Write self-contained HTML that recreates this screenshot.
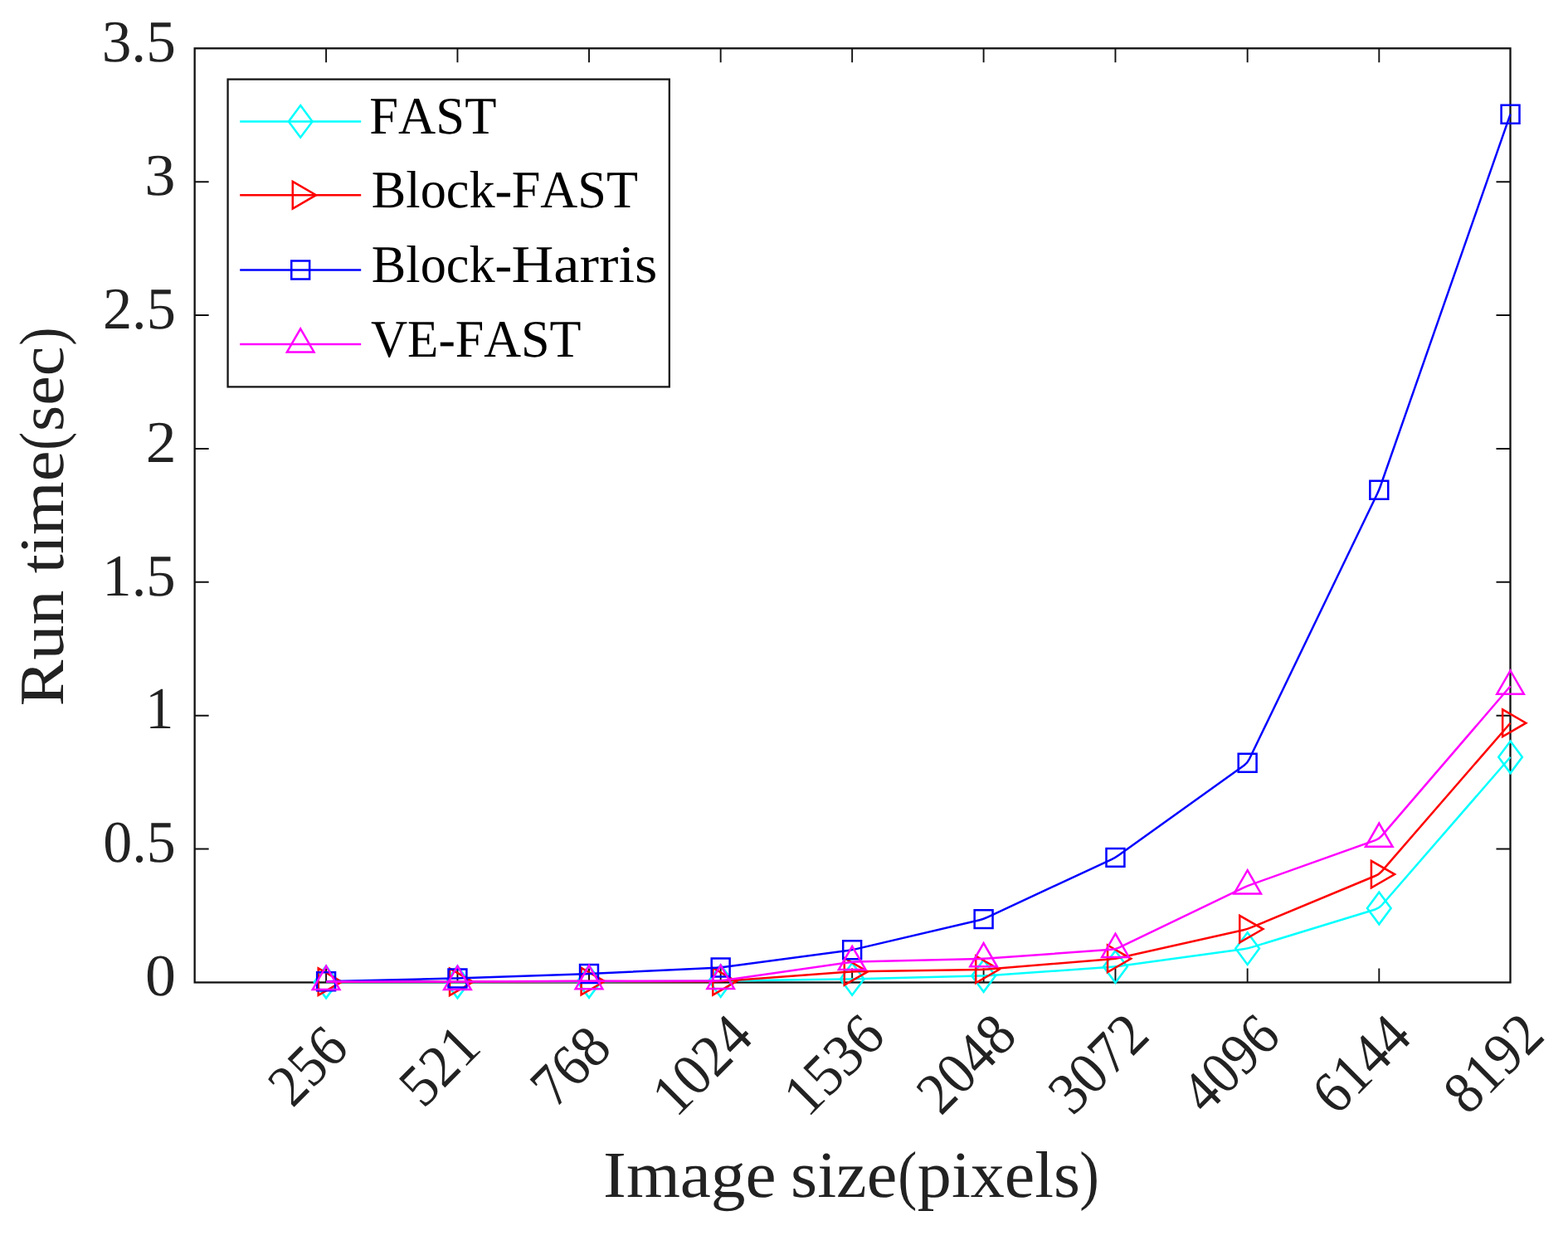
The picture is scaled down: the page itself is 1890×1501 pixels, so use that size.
<!DOCTYPE html>
<html lang="en"><head><meta charset="utf-8"><title>Run time vs image size</title>
<style>html,body{margin:0;padding:0;background:#fff}body{width:1890px;height:1501px;overflow:hidden}svg{display:block}text{font-family:"Liberation Serif",serif;white-space:pre;font-kerning:none;font-variant-ligatures:none;text-rendering:geometricPrecision}</style>
</head><body>
<svg width="1890" height="1501" viewBox="0 0 1890 1501">
<rect width="1890" height="1501" fill="#fff"/>
<g fill="none" stroke="#111111" stroke-width="2.3" stroke-linecap="butt">
<rect x="234.65" y="58.3" width="1585.85" height="1126.15"/>
<path stroke-width="1.9" d="M393.1 1184.45V1167.45M393.1 58.3V75.3M551.45 1184.45V1167.45M551.45 58.3V75.3M710 1184.45V1167.45M710 58.3V75.3M868.65 1184.45V1167.45M868.65 58.3V75.3M1027.15 1184.45V1167.45M1027.15 58.3V75.3M1185.6 1184.45V1167.45M1185.6 58.3V75.3M1344.45 1184.45V1167.45M1344.45 58.3V75.3M1503.65 1184.45V1167.45M1503.65 58.3V75.3M1662.3 1184.45V1167.45M1662.3 58.3V75.3M234.65 219.18H251.65M1820.5 219.18H1803.5M234.65 380.06H251.65M1820.5 380.06H1803.5M234.65 540.94H251.65M1820.5 540.94H1803.5M234.65 701.81H251.65M1820.5 701.81H1803.5M234.65 862.69H251.65M1820.5 862.69H1803.5M234.65 1023.57H251.65M1820.5 1023.57H1803.5"/>
</g>
<g fill="none" stroke="#00ffff" stroke-width="2.5" stroke-linejoin="round" stroke-miterlimit="10">
<path d="M393.1 1184L546.45 1184Q551.45 1184 556.45 1183.98L705 1183.52Q710 1183.5 715 1183.47L863.65 1182.63Q868.65 1182.6 873.65 1182.53L1022.15 1180.47Q1027.15 1180.4 1032.15 1180.28L1180.6 1176.62Q1185.6 1176.5 1190.59 1176.15L1339.46 1165.85Q1344.45 1165.5 1349.4 1164.82L1498.7 1144.28Q1503.65 1143.6 1508.43 1142.14L1657.52 1096.46Q1662.3 1095 1665.58 1091.23L1820.55 912.8"/>
<g stroke-linejoin="miter"><polygon points="393.1,1164.7 407.4,1184 393.1,1203.3 378.8,1184"/><polygon points="551.45,1164.7 565.75,1184 551.45,1203.3 537.15,1184"/><polygon points="710,1164.2 724.3,1183.5 710,1202.8 695.7,1183.5"/><polygon points="868.65,1163.3 882.95,1182.6 868.65,1201.9 854.35,1182.6"/><polygon points="1027.15,1161.1 1041.45,1180.4 1027.15,1199.7 1012.85,1180.4"/><polygon points="1185.6,1157.2 1199.9,1176.5 1185.6,1195.8 1171.3,1176.5"/><polygon points="1344.45,1146.2 1358.75,1165.5 1344.45,1184.8 1330.15,1165.5"/><polygon points="1503.65,1124.3 1517.95,1143.6 1503.65,1162.9 1489.35,1143.6"/><polygon points="1662.3,1075.7 1676.6,1095 1662.3,1114.3 1648,1095"/><polygon points="1820.55,893.5 1834.85,912.8 1820.55,932.1 1806.25,912.8"/></g>
</g>
<g fill="none" stroke="#ff0000" stroke-width="2.5" stroke-linejoin="round" stroke-miterlimit="10">
<path d="M393.1 1183.65L546.45 1183.84Q551.45 1183.85 556.45 1183.83L705 1183.12Q710 1183.1 715 1183.1L863.65 1183.2Q868.65 1183.2 873.64 1182.83L1022.16 1171.77Q1027.15 1171.4 1032.15 1171.32L1180.6 1168.88Q1185.6 1168.8 1190.58 1168.39L1339.47 1156.21Q1344.45 1155.8 1349.33 1154.71L1498.77 1121.19Q1503.65 1120.1 1508.27 1118.18L1657.68 1056.02Q1662.3 1054.1 1665.58 1050.32L1820.55 871.7"/>
<g stroke-linejoin="miter"><polygon points="383.7,1167.37 411.9,1183.65 383.7,1199.93"/><polygon points="542.05,1167.57 570.25,1183.85 542.05,1200.13"/><polygon points="700.6,1166.82 728.8,1183.1 700.6,1199.38"/><polygon points="859.25,1166.92 887.45,1183.2 859.25,1199.48"/><polygon points="1017.75,1155.12 1045.95,1171.4 1017.75,1187.68"/><polygon points="1176.2,1152.52 1204.4,1168.8 1176.2,1185.08"/><polygon points="1335.05,1139.52 1363.25,1155.8 1335.05,1172.08"/><polygon points="1494.25,1103.82 1522.45,1120.1 1494.25,1136.38"/><polygon points="1652.9,1037.82 1681.1,1054.1 1652.9,1070.38"/><polygon points="1811.15,855.42 1839.35,871.7 1811.15,887.98"/></g>
</g>
<g fill="none" stroke="#0000ff" stroke-width="2.5" stroke-linejoin="round" stroke-miterlimit="10">
<path d="M393.1 1183.3L546.45 1179.62Q551.45 1179.5 556.45 1179.33L705 1174.17Q710 1174 714.99 1173.76L863.66 1166.74Q868.65 1166.5 873.61 1165.84L1022.19 1145.91Q1027.15 1145.25 1032.02 1144.11L1180.73 1109.24Q1185.6 1108.1 1190.13 1105.98L1339.92 1036.02Q1344.45 1033.9 1348.51 1030.99L1499.59 922.71Q1503.65 919.8 1505.82 915.3L1660.13 595.25Q1662.3 590.75 1663.95 586.03L1820.55 137.7"/>
<g stroke-linejoin="miter"><polygon points="382.15,1172.35 404.05,1172.35 404.05,1194.25 382.15,1194.25"/><polygon points="540.5,1168.55 562.4,1168.55 562.4,1190.45 540.5,1190.45"/><polygon points="699.05,1163.05 720.95,1163.05 720.95,1184.95 699.05,1184.95"/><polygon points="857.7,1155.55 879.6,1155.55 879.6,1177.45 857.7,1177.45"/><polygon points="1016.2,1134.3 1038.1,1134.3 1038.1,1156.2 1016.2,1156.2"/><polygon points="1174.65,1097.15 1196.55,1097.15 1196.55,1119.05 1174.65,1119.05"/><polygon points="1333.5,1022.95 1355.4,1022.95 1355.4,1044.85 1333.5,1044.85"/><polygon points="1492.7,908.85 1514.6,908.85 1514.6,930.75 1492.7,930.75"/><polygon points="1651.35,579.8 1673.25,579.8 1673.25,601.7 1651.35,601.7"/><polygon points="1809.6,126.75 1831.5,126.75 1831.5,148.65 1809.6,148.65"/></g>
</g>
<g fill="none" stroke="#ff00ff" stroke-width="2.5" stroke-linejoin="round" stroke-miterlimit="10">
<path d="M393.1 1183.5L546.45 1183.5Q551.45 1183.5 556.45 1183.48L705 1182.82Q710 1182.8 715 1182.79L863.65 1182.51Q868.65 1182.5 873.6 1181.79L1022.2 1160.41Q1027.15 1159.7 1032.15 1159.58L1180.6 1156.02Q1185.6 1155.9 1190.59 1155.54L1339.46 1144.86Q1344.45 1144.5 1348.96 1142.33L1499.14 1070.17Q1503.65 1068 1508.36 1066.32L1657.59 1013.08Q1662.3 1011.4 1665.56 1007.61L1820.55 827.3"/>
<g stroke-linejoin="miter"><polygon points="393.1,1164.7 409.38,1192.9 376.82,1192.9"/><polygon points="551.45,1164.7 567.73,1192.9 535.17,1192.9"/><polygon points="710,1164 726.28,1192.2 693.72,1192.2"/><polygon points="868.65,1163.7 884.93,1191.9 852.37,1191.9"/><polygon points="1027.15,1140.9 1043.43,1169.1 1010.87,1169.1"/><polygon points="1185.6,1137.1 1201.88,1165.3 1169.32,1165.3"/><polygon points="1344.45,1125.7 1360.73,1153.9 1328.17,1153.9"/><polygon points="1503.65,1049.2 1519.93,1077.4 1487.37,1077.4"/><polygon points="1662.3,992.6 1678.58,1020.8 1646.02,1020.8"/><polygon points="1820.55,808.5 1836.83,836.7 1804.27,836.7"/></g>
</g>
<rect x="274.57" y="95.6" width="532.23" height="370.8" fill="#fff" stroke="#161616" stroke-width="2.3"/>
<g fill="none" stroke="#00ffff" stroke-width="2.5" stroke-miterlimit="10">
<path d="M289.2 146.4H435.2"/>
<polygon points="362.2,127.1 376.5,146.4 362.2,165.7 347.9,146.4"/>
</g>
<text transform="translate(0 161)" y="0" font-size="63.6" fill="#000"><tspan x="445.3" textLength="153.14" lengthAdjust="spacingAndGlyphs">FAST</tspan></text>
<g fill="none" stroke="#ff0000" stroke-width="2.5" stroke-miterlimit="10">
<path d="M289.2 235.2H435.2"/>
<polygon points="352.8,218.92 381,235.2 352.8,251.48"/>
</g>
<text transform="translate(0 249.8)" y="0" font-size="63.6" fill="#000"><tspan x="447.81" textLength="169.55" lengthAdjust="spacingAndGlyphs">Block-</tspan><tspan x="616.71" textLength="152.33" lengthAdjust="spacingAndGlyphs">FAST</tspan></text>
<g fill="none" stroke="#0000ff" stroke-width="2.5" stroke-miterlimit="10">
<path d="M289.2 325.5H435.2"/>
<polygon points="351.25,314.55 373.15,314.55 373.15,336.45 351.25,336.45"/>
</g>
<text transform="translate(0 340.1)" y="0" font-size="63.6" fill="#000"><tspan x="447.81" textLength="169.55" lengthAdjust="spacingAndGlyphs">Block-</tspan><tspan x="616.47" textLength="175.87" lengthAdjust="spacingAndGlyphs">Harris</tspan></text>
<g fill="none" stroke="#ff00ff" stroke-width="2.5" stroke-miterlimit="10">
<path d="M289.2 415.1H435.2"/>
<polygon points="362.2,396.3 378.48,424.5 345.92,424.5"/>
</g>
<text transform="translate(0 429.7)" y="0" font-size="63.6" fill="#000"><tspan x="446.91" textLength="101.9" lengthAdjust="spacingAndGlyphs">VE-</tspan><tspan x="548.71" textLength="151.82" lengthAdjust="spacingAndGlyphs">FAST</tspan></text>
<text transform="translate(122.69 74.1) scale(0.9981 1)" font-size="71.5" fill="#222222">3.5</text>
<text transform="translate(174.23 234.98) scale(1.0428 1)" font-size="71.5" fill="#222222">3</text>
<text transform="translate(123.91 395.86) scale(0.9839 1)" font-size="71.5" fill="#222222">2.5</text>
<text transform="translate(175.87 556.74) scale(1.0292 1)" font-size="71.5" fill="#222222">2</text>
<text transform="translate(123.28 717.61) scale(0.9901 1)" font-size="71.5" fill="#222222">1.5</text>
<text transform="translate(175.21 878.49) scale(0.9535 1)" font-size="71.5" fill="#222222">1</text>
<text transform="translate(124.33 1039.37) scale(0.9790 1)" font-size="71.5" fill="#222222">0.5</text>
<text transform="translate(174.99 1200.25) scale(1.0329 1)" font-size="71.5" fill="#222222">0</text>
<text transform="translate(421.1 1268.15) rotate(-45) translate(-96.9 0) scale(0.9218 1)" font-size="71.5" fill="#222222">256</text>
<text transform="translate(579.45 1268.15) rotate(-45) translate(-97.95 0) scale(0.9514 1)" font-size="71.5" fill="#222222">521</text>
<text transform="translate(738 1268.15) rotate(-45) translate(-98.44 0) scale(0.9418 1)" font-size="71.5" fill="#222222">768</text>
<text transform="translate(909.65 1253.75) rotate(-45) translate(-133.93 0) scale(0.9440 1)" font-size="71.5" fill="#222222">1024</text>
<text transform="translate(1068.15 1253.75) rotate(-45) translate(-133.98 0) scale(0.9511 1)" font-size="71.5" fill="#222222">1536</text>
<text transform="translate(1226.6 1253.75) rotate(-45) translate(-130.93 0) scale(0.9334 1)" font-size="71.5" fill="#222222">2048</text>
<text transform="translate(1385.45 1253.75) rotate(-45) translate(-131.23 0) scale(0.9437 1)" font-size="71.5" fill="#222222">3072</text>
<text transform="translate(1544.65 1253.75) rotate(-45) translate(-129.28 0) scale(0.9177 1)" font-size="71.5" fill="#222222">4096</text>
<text transform="translate(1703.3 1253.75) rotate(-45) translate(-130.83 0) scale(0.9221 1)" font-size="71.5" fill="#222222">6144</text>
<text transform="translate(1861.55 1253.75) rotate(-45) translate(-130.56 0) scale(0.9389 1)" font-size="71.5" fill="#222222">8192</text>
<text transform="translate(0 1443)" y="0" font-size="79.4" fill="#222222"><tspan x="727.08" textLength="208.61" lengthAdjust="spacingAndGlyphs">Image</tspan> <tspan x="953.12" textLength="128.14" lengthAdjust="spacingAndGlyphs">size</tspan><tspan x="1082.15" textLength="23.08" lengthAdjust="spacingAndGlyphs">(</tspan><tspan x="1105.88" textLength="196.09" lengthAdjust="spacingAndGlyphs">pixels</tspan><tspan x="1301.32" textLength="23.6" lengthAdjust="spacingAndGlyphs">)</tspan></text>
<text transform="translate(75.8 849) rotate(-90)" y="0" font-size="76" fill="#222222"><tspan x="-2.42" textLength="139.99" lengthAdjust="spacingAndGlyphs">Run</tspan> <tspan x="157.89" textLength="147.69" lengthAdjust="spacingAndGlyphs">time</tspan><tspan x="306.23" textLength="21.78" lengthAdjust="spacingAndGlyphs">(</tspan><tspan x="329.01" textLength="102.46" lengthAdjust="spacingAndGlyphs">sec</tspan><tspan x="432.49" textLength="21.78" lengthAdjust="spacingAndGlyphs">)</tspan></text>
</svg>
</body></html>
